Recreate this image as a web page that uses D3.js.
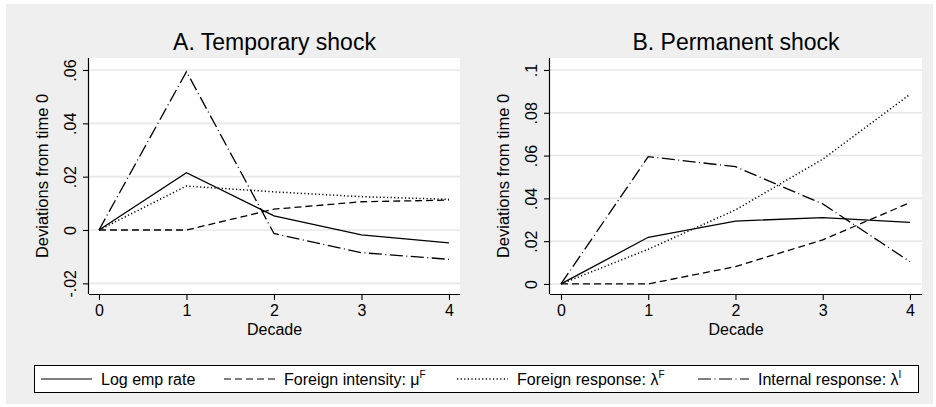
<!DOCTYPE html>
<html>
<head>
<meta charset="utf-8">
<script src="https://cdnjs.cloudflare.com/ajax/libs/d3/7.8.5/d3.min.js"></script>
<style>
  body { margin: 0; background: #fff; }
  svg { display: block; font-family: "Liberation Sans", Arial, sans-serif; }
</style>
</head>
<body>
<div id="chart"></div>
<script>
// decades on the x axis
const decades = [0, 1, 2, 3, 4];

// A. Temporary shock
const tempLogEmp = [0, 0.0215, 0.0053, -0.0018, -0.0048];
const tempForeignIntensity = [0, 0, 0.0078, 0.0106, 0.0112];
const tempForeignResponse = [0, 0.0165, 0.0143, 0.0125, 0.0115];
const tempInternalResponse = [0, 0.0594, -0.0013, -0.0085, -0.011];

// B. Permanent shock
const permLogEmp = [0, 0.0218, 0.0294, 0.031, 0.0288];
const permForeignIntensity = [0, 0, 0.0081, 0.0206, 0.038];
const permForeignResponse = [0, 0.0162, 0.0346, 0.0583, 0.0886];
const permInternalResponse = [0, 0.0595, 0.0548, 0.0374, 0.0104];

const xTicks = [0, 1, 2, 3, 4];
const tempYTicks = [-0.02, 0, 0.02, 0.04, 0.06];
const permYTicks = [0, 0.02, 0.04, 0.06, 0.08, 0.1];

const seriesNames = ['Log emp rate', 'Foreign intensity: μ', 'Foreign response: λ', 'Internal response: λ'];
const seriesSup = ['', 'F', 'F', 'I'];
const dashes = [null, '7,4', '1.2,2.4', '13,3.5,1,3.5'];
const widths = [1.3, 1.3, 1.5, 1.3];

const W = 936, H = 407;

const svg = d3.select('#chart').append('svg')
  .attr('width', W).attr('height', H);

// outer grey frame
svg.append('rect')
  .attr('x', 6).attr('y', 4).attr('width', 927).attr('height', 400)
  .attr('fill', '#efefef');

const panels = [
  {
    title: 'A. Temporary shock', left: 89, top: 58, width: 371, height: 236,
    xDomain: [-0.114, 4.126], yDomain: [-0.024, 0.0645], yTicks: tempYTicks,
    series: [tempLogEmp, tempForeignIntensity, tempForeignResponse, tempInternalResponse]
  },
  {
    title: 'B. Permanent shock', left: 550, top: 58, width: 372, height: 236,
    xDomain: [-0.126, 4.138], yDomain: [-0.0047, 0.1056], yTicks: permYTicks,
    series: [permLogEmp, permForeignIntensity, permForeignResponse, permInternalResponse]
  }
];

function fmtY(d) {
  return String(+d.toFixed(4)).replace(/^(-?)0\./, '$1.');
}

panels.forEach(p => {
  const x = d3.scaleLinear().domain(p.xDomain).range([p.left, p.left + p.width]);
  const y = d3.scaleLinear().domain(p.yDomain).range([p.top + p.height, p.top]);
  const g = svg.append('g');

  // plot region
  g.append('rect')
    .attr('x', p.left).attr('y', p.top)
    .attr('width', p.width).attr('height', p.height)
    .attr('fill', '#fff');

  // gridlines
  g.selectAll('.grid')
    .data(p.yTicks)
    .enter().append('line')
    .attr('x1', p.left).attr('x2', p.left + p.width)
    .attr('y1', d => y(d)).attr('y2', d => y(d))
    .attr('stroke', '#e8e8e8').attr('stroke-width', 1.6);

  // lines
  const line = d3.line()
    .x((d, i) => x(decades[i]))
    .y(d => y(d));

  p.series.forEach((s, i) => {
    g.append('path')
      .datum(s)
      .attr('d', line)
      .attr('fill', 'none')
      .attr('stroke', '#000')
      .attr('stroke-width', widths[i])
      .attr('stroke-dasharray', dashes[i]);
  });

  // x axis
  const xAxis = g.append('g')
    .attr('transform', `translate(0,${p.top + p.height})`)
    .call(d3.axisBottom(x).tickValues(xTicks).tickFormat(d3.format('d'))
      .tickSize(6).tickPadding(5).tickSizeOuter(0));
  xAxis.select('.domain').attr('stroke-width', 1.2)
    .attr('d', `M${p.left},0.5H${p.left + p.width}`);
  xAxis.selectAll('.tick line').attr('stroke-width', 1.1);
  xAxis.selectAll('.tick text')
    .attr('font-size', 16).attr('fill', '#000')
    .attr('font-family', '"Liberation Sans", Arial, sans-serif');

  // y axis
  const yAxis = g.append('g')
    .attr('transform', `translate(${p.left},0)`)
    .call(d3.axisLeft(y).tickValues(p.yTicks).tickFormat(fmtY).tickSize(6).tickSizeOuter(0));
  yAxis.select('.domain').attr('stroke-width', 1.2)
    .attr('d', `M-0.5,${p.top}V${p.top + p.height}`);
  yAxis.selectAll('.tick line').attr('stroke-width', 1.1);
  yAxis.selectAll('.tick text')
    .attr('x', null).attr('dy', null)
    .attr('transform', 'translate(-13,0) rotate(-90)')
    .attr('text-anchor', 'middle')
    .attr('font-size', 16).attr('fill', '#000')
    .attr('font-family', '"Liberation Sans", Arial, sans-serif');

  // titles
  g.append('text')
    .attr('x', p.left + p.width / 2).attr('y', 50)
    .attr('text-anchor', 'middle')
    .attr('font-size', 23)
    .text(p.title);

  g.append('text')
    .attr('x', p.left + p.width / 2).attr('y', 335)
    .attr('text-anchor', 'middle')
    .attr('font-size', 16)
    .text('Decade');

  g.append('text')
    .attr('transform', `translate(${p.left - 41},${p.top + p.height / 2}) rotate(-90)`)
    .attr('text-anchor', 'middle')
    .attr('font-size', 16.5)
    .text('Deviations from time 0');
});

// legend
const legend = svg.append('g');
legend.append('rect')
  .attr('x', 34.5).attr('y', 365.5).attr('width', 884).attr('height', 27)
  .attr('fill', '#fff').attr('stroke', '#000').attr('stroke-width', 1);

const keyStarts = [41, 224, 457, 698];
const items = legend.selectAll('.item')
  .data(seriesNames)
  .enter().append('g')
  .attr('transform', (d, i) => `translate(${keyStarts[i]},379)`);

items.append('line')
  .attr('x1', 0).attr('x2', 51)
  .attr('stroke', '#000').attr('stroke-width', (d, i) => widths[i] - 0.1)
  .attr('stroke-dasharray', (d, i) => dashes[i]);

const labels = items.append('text')
  .attr('x', 60).attr('y', 6)
  .attr('font-size', 16)
  .text(d => d);
labels.append('tspan')
  .attr('font-size', 10).attr('dy', -7)
  .text((d, i) => seriesSup[i]);
</script>
</body>
</html>
